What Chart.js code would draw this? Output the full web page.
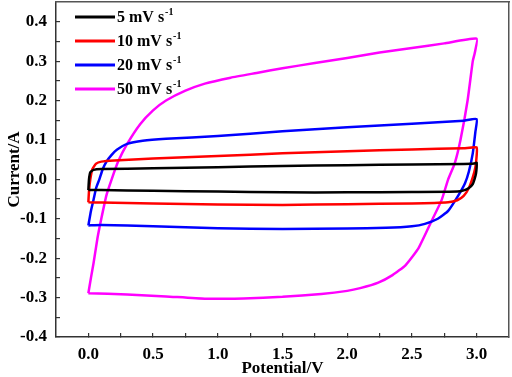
<!DOCTYPE html>
<html>
<head>
<meta charset="utf-8">
<script src="https://cdn.jsdelivr.net/npm/chart.js@4.4.1/dist/chart.umd.min.js"></script>
<style>
  html, body { margin: 0; padding: 0; background: #fff; }
</style>
</head>
<body>
<canvas id="cvChart" width="512" height="377"></canvas>
<script>
// scan rates and legend text
const seriesLabels = ['5 mV s', '10 mV s', '20 mV s', '50 mV s'];
const seriesColors = ['#000000', '#ff0000', '#0000ff', '#ff00ff'];

// tick labels
const xTicks = [0, 0.5, 1.0, 1.5, 2.0, 2.5, 3.0];
const yTicks = [-0.4, -0.3, -0.2, -0.1, 0, 0.1, 0.2, 0.3, 0.4];

// 5 mV/s loop (potential V, current A)
const v5 = [0, 0.005, 0.015, 0.04, 0.1, 0.5, 1.0, 1.5, 2.0, 2.5, 2.9, 2.98, 3.0,
            3.0, 2.995, 2.985, 2.97, 2.94, 2.9, 2.85, 2.5, 2.0, 1.5, 1.0, 0.5, 0.1, 0];
const i5 = [-0.027, 0.0, 0.018, 0.024, 0.026, 0.028, 0.031, 0.034, 0.036, 0.038, 0.039, 0.040, 0.042,
            0.030, 0.015, 0.002, -0.012, -0.022, -0.028, -0.031, -0.032, -0.033, -0.033, -0.031, -0.029, -0.027, -0.027];

// 10 mV/s loop
const v10 = [0, 0.005, 0.015, 0.03, 0.06, 0.1, 0.2, 0.5, 1.0, 1.5, 2.0, 2.5, 2.9, 3.0,
             3.0, 2.99, 2.97, 2.94, 2.9, 2.85, 2.78, 2.5, 2.0, 1.5, 1.0, 0.5, 0.1, 0];
const i10 = [-0.058, -0.03, 0.0, 0.025, 0.040, 0.045, 0.048, 0.053, 0.059, 0.066, 0.071, 0.076, 0.079, 0.081,
             0.060, 0.030, 0.005, -0.022, -0.042, -0.053, -0.058, -0.061, -0.063, -0.065, -0.064, -0.061, -0.059, -0.058];

// 20 mV/s loop
const v20 = [0, 0.02, 0.04, 0.06, 0.085, 0.11, 0.14, 0.18, 0.22, 0.3, 0.42, 0.6, 1.0, 1.5, 2.0, 2.5, 2.9, 3.0,
             2.99, 2.97, 2.94, 2.91, 2.86, 2.78, 2.7, 2.6, 2.5, 2.3, 2.0, 1.5, 1.0, 0.5, 0.1, 0];
const i20 = [-0.117, -0.08, -0.052, -0.022, 0.0, 0.025, 0.045, 0.062, 0.075, 0.090, 0.098, 0.103, 0.110, 0.122, 0.132, 0.141, 0.149, 0.153,
             0.120, 0.066, 0.020, -0.010, -0.040, -0.080, -0.100, -0.113, -0.119, -0.123, -0.125, -0.126, -0.124, -0.119, -0.116, -0.117];

// 50 mV/s loop
const v50 = [0, 0.02, 0.04, 0.07, 0.1, 0.14, 0.18, 0.23, 0.3, 0.4, 0.5, 0.6, 0.75, 0.9, 1.1, 1.3, 1.5, 1.75, 2.0, 2.25, 2.5, 2.75, 3.0,
             2.985, 2.97, 2.93, 2.875, 2.83, 2.78, 2.73, 2.65, 2.55, 2.45, 2.35, 2.24, 2.1, 2.0, 1.8, 1.5, 1.2, 0.9, 0.6, 0.3, 0];
const i50 = [-0.289, -0.25, -0.213, -0.15, -0.10, -0.04, 0.0, 0.045, 0.090, 0.140, 0.175, 0.200, 0.225, 0.243, 0.258, 0.270, 0.282, 0.295, 0.308, 0.322, 0.333, 0.345, 0.357,
             0.320, 0.300, 0.200, 0.100, 0.040, 0.0, -0.052, -0.107, -0.175, -0.218, -0.243, -0.262, -0.276, -0.283, -0.291, -0.298, -0.302, -0.303, -0.297, -0.292, -0.289];

const loops = [[v5, i5], [v10, i10], [v20, i20], [v50, i50]];

const serif = '"Liberation Serif", "Times New Roman", serif';

function toPoints(vs, is) {
  return vs.map((v, k) => ({ x: v, y: is[k] }));
}

// major + minor tick positions (minor ones get no label)
function withMinor(major) {
  const out = [];
  major.forEach((v, k) => {
    out.push(v);
    if (k < major.length - 1) out.push((v + major[k + 1]) / 2);
  });
  return out;
}
function isMajor(list, v) {
  return list.some(t => Math.abs(t - v) < 1e-6);
}

// legend drawn inside the plot, with the s^-1 superscript
const legendPlugin = {
  id: 'legendPlugin',
  afterDraw(chart) {
    const ctx = chart.ctx;
    ctx.save();
    chart.data.datasets.forEach((ds, k) => {
      const yy = 17 + k * 24;
      ctx.fillStyle = ds.borderColor;
      ctx.fillRect(75, yy - 1.5, 40, 3);
      ctx.fillStyle = '#000';
      ctx.textBaseline = 'middle';
      ctx.textAlign = 'left';
      ctx.font = 'bold 16px ' + serif;
      ctx.fillText(ds.label, 117, yy + 1);
      const w = ctx.measureText(ds.label).width;
      ctx.font = 'bold 10px ' + serif;
      ctx.fillText('-1', 117 + w + 1, yy - 5);
    });
    ctx.restore();
  }
};

const tickFont = { family: serif, size: 17, weight: 'bold' };

new Chart(document.getElementById('cvChart'), {
  type: 'scatter',
  data: {
    datasets: loops.map((lp, k) => ({
      label: seriesLabels[k],
      data: toPoints(lp[0], lp[1]),
      showLine: true,
      borderColor: seriesColors[k],
      backgroundColor: seriesColors[k],
      borderWidth: 2.5,
      pointRadius: 0,
      tension: 0.15
    }))
  },
  options: {
    responsive: false,
    animation: false,
    layout: { padding: { top: 2, right: 3, left: 0, bottom: 0 } },
    plugins: {
      legend: { display: false },
      tooltip: { enabled: false }
    },
    scales: {
      x: {
        type: 'linear',
        min: -0.25,
        max: 3.25,
        afterBuildTicks: (s) => { s.ticks = withMinor(xTicks).map(v => ({ value: v })); },
        afterFit: (s) => { s.height = 40; s.paddingLeft = 0; s.paddingRight = 0; },
        grid: { display: true, drawOnChartArea: false, drawTicks: true, tickLength: -4, color: '#333', lineWidth: 1.2 },
        border: { display: true, color: '#333', width: 1.5 },
        ticks: {
          padding: 11,
          color: '#000',
          autoSkip: false,
          maxRotation: 0,
          font: tickFont,
          callback: (v) => isMajor(xTicks, v) ? Number(v).toFixed(1) : ''
        },
        title: {
          display: true,
          text: 'Potential/V',
          color: '#000',
          padding: { top: 0, bottom: 0 },
          font: { family: serif, size: 17, weight: 'bold', lineHeight: 1 }
        }
      },
      y: {
        type: 'linear',
        min: -0.4,
        max: 0.45,
        afterBuildTicks: (s) => { s.ticks = withMinor(yTicks).map(v => ({ value: v })); },
        afterFit: (s) => { s.width = 56; s.paddingTop = 0; s.paddingBottom = 0; },
        grid: { display: true, drawOnChartArea: false, drawTicks: true, tickLength: -4, color: '#333', lineWidth: 1.2 },
        border: { display: true, color: '#333', width: 1.5 },
        ticks: {
          padding: 13,
          color: '#000',
          autoSkip: false,
          font: tickFont,
          callback: (v) => isMajor(yTicks, v) ? Number(v).toFixed(1) : ''
        },
        title: {
          display: true,
          text: 'Current/A',
          color: '#000',
          padding: { top: 6, bottom: 0 },
          font: { family: serif, size: 17, weight: 'bold', lineHeight: 1 }
        }
      },
      xTop: {
        type: 'linear',
        position: 'top',
        min: 0,
        max: 1,
        afterFit: (s) => { s.height = 0; },
        grid: { display: true, drawOnChartArea: false, drawTicks: false },
        border: { display: true, color: '#555', width: 1.5 },
        ticks: { display: false }
      },
      yRight: {
        type: 'linear',
        position: 'right',
        min: 0,
        max: 1,
        afterFit: (s) => { s.width = 0; },
        grid: { display: true, drawOnChartArea: false, drawTicks: false },
        border: { display: true, color: '#555', width: 1.5 },
        ticks: { display: false }
      }
    }
  },
  plugins: [legendPlugin]
});
</script>
</body>
</html>
